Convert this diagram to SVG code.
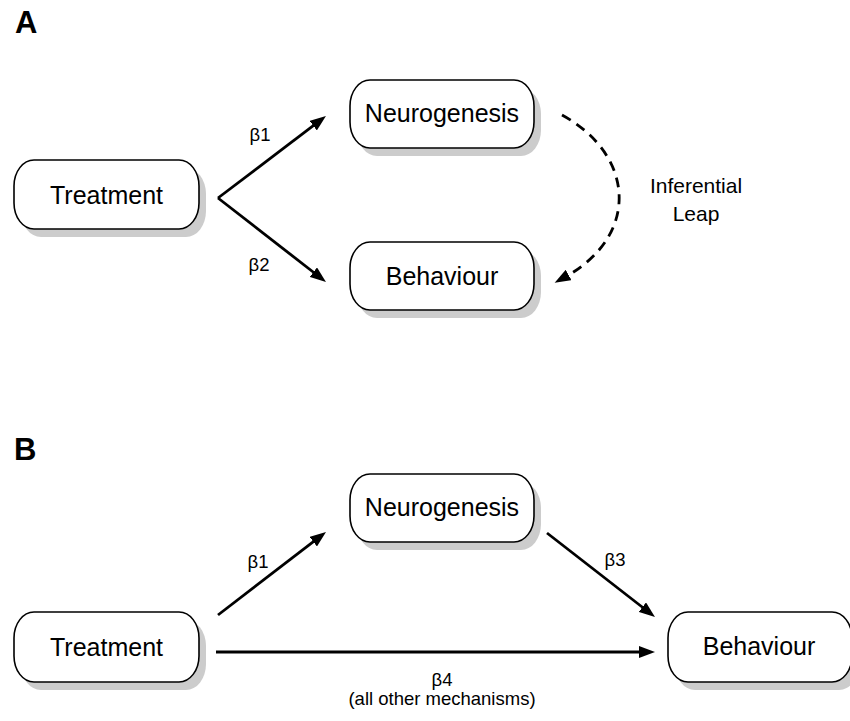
<svg xmlns="http://www.w3.org/2000/svg" width="850" height="721" viewBox="0 0 850 721">
<defs>
<style>
.shadow{fill:#cccccc;stroke:none}
.box{fill:#ffffff;stroke:#000000;stroke-width:1.6}
.nt{font-family:"Liberation Sans",Arial,sans-serif;font-size:25px;fill:#000;text-anchor:middle}
.lbl{font-family:"Liberation Sans",Arial,sans-serif;font-size:18.5px;fill:#000;text-anchor:middle}
.il{font-family:"Liberation Sans",Arial,sans-serif;font-size:21px;fill:#000;text-anchor:middle}
.panel{font-family:"Liberation Sans",Arial,sans-serif;font-size:31px;font-weight:bold;fill:#000}
.edge{fill:none;stroke:#000;stroke-width:2.8;marker-end:url(#ah)}
.dash{fill:none;stroke:#000;stroke-width:2.8;stroke-dasharray:10 7;marker-end:url(#ah)}
</style>
<marker id="ah" markerUnits="userSpaceOnUse" markerWidth="16" markerHeight="12" refX="3" refY="6" orient="auto" viewBox="0 0 16 12">
<path d="M0,0 L16,6 L0,12 Z" fill="#000"/>
</marker>
</defs>
<rect width="850" height="721" fill="#ffffff"/>
<text class="panel" x="15" y="33">A</text>
<text class="panel" x="14" y="460">B</text>

<g id="connectors">
<path class="edge" d="M218,198 L315.6,123.9"/>
<path class="edge" d="M218,198 L315.7,274"/>
<path class="dash" d="M562,115 C635,155 640,235 566,276.5"/>
<path class="edge" d="M218,615 L315.7,539.9"/>
<path class="edge" d="M547,533 L644.7,609"/>
<path class="edge" d="M216,652 L642,652"/>
<text class="lbl" x="260" y="141">β1</text>
<text class="lbl" x="259" y="271">β2</text>
<text class="il" x="696" y="193">Inferential</text>
<text class="il" x="696" y="221">Leap</text>
<text class="lbl" x="258" y="568">β1</text>
<text class="lbl" x="615" y="566">β3</text>
<text class="lbl" x="442" y="686">β4</text>
<text class="lbl" x="442" y="705">(all other mechanisms)</text>
</g>

<g id="treatmentA">
<rect class="shadow" x="21" y="168" width="185" height="69" rx="20" ry="26"/>
<rect class="box" x="14" y="160" width="185" height="69" rx="20" ry="26"/>
<text class="nt" x="106.5" y="204">Treatment</text>
</g>
<g id="neurogenesisA">
<rect class="shadow" x="357" y="88" width="184" height="68" rx="20" ry="26"/>
<rect class="box" x="350" y="80" width="184" height="68" rx="20" ry="26"/>
<text class="nt" x="442" y="122">Neurogenesis</text>
</g>
<g id="behaviourA">
<rect class="shadow" x="357" y="250" width="184" height="68" rx="20" ry="26"/>
<rect class="box" x="350" y="242" width="184" height="68" rx="20" ry="26"/>
<text class="nt" x="442" y="285">Behaviour</text>
</g>
<g id="treatmentB">
<rect class="shadow" x="21" y="620" width="185" height="70" rx="20" ry="26"/>
<rect class="box" x="14" y="612" width="185" height="70" rx="20" ry="26"/>
<text class="nt" x="106.5" y="656">Treatment</text>
</g>
<g id="neurogenesisB">
<rect class="shadow" x="357" y="482" width="184" height="68" rx="20" ry="26"/>
<rect class="box" x="350" y="474" width="184" height="68" rx="20" ry="26"/>
<text class="nt" x="442" y="516">Neurogenesis</text>
</g>
<g id="behaviourB">
<rect class="shadow" x="675" y="620" width="184" height="70" rx="20" ry="26"/>
<rect class="box" x="668" y="612" width="184" height="70" rx="20" ry="26"/>
<text class="nt" x="759" y="655">Behaviour</text>
</g>
</svg>
